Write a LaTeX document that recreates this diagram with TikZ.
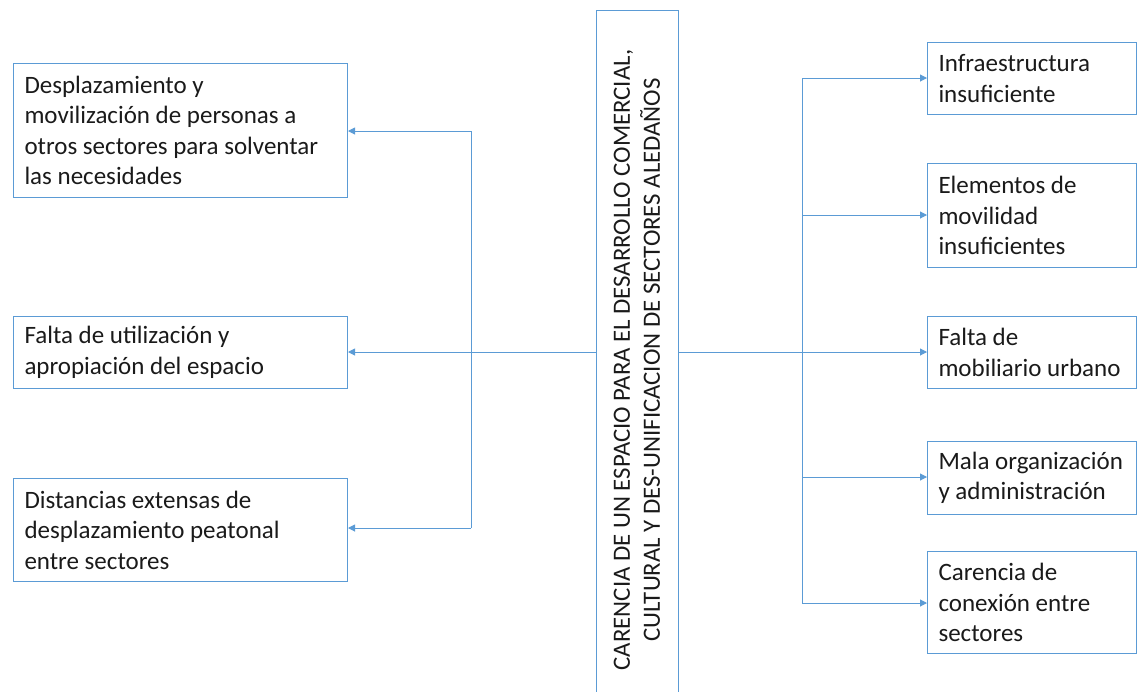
\documentclass[tikz,border=0pt]{standalone}
\usepackage{fontspec}
\setmainfont{Carlito}
\usetikzlibrary{arrows.meta}
\definecolor{lineblue}{HTML}{5B9BD5}
\definecolor{txt}{HTML}{1A1A1A}
\tikzset{
  box/.style={draw=lineblue, line width=1pt, anchor=north west, align=flush left,
    inner xsep=11pt, inner ysep=0pt, text=txt,
    font=\fontsize{25}{30.5}\selectfont},
  conn/.style={draw=lineblue, line width=1pt},
  arr/.style={conn, -{Triangle[width=7pt,length=7pt]}}
}
\begin{document}
\begin{tikzpicture}[x=1pt,y=-1pt]
\useasboundingbox (0,0) rectangle (1137,691);
% left boxes
\node[box, text width=312pt, minimum height=134pt] (l1) at (13,63)
  {Desplazamiento y\\movilización de personas a\\otros sectores para solventar\\las necesidades};
\node[box, text width=312pt, minimum height=72pt] (l2) at (13,316)
  {Falta de utilización y\\apropiación del espacio};
\node[box, text width=312pt, minimum height=103pt] (l3) at (13,478)
  {Distancias extensas de\\desplazamiento peatonal\\entre sectores};
% right boxes
\node[box, text width=187pt, minimum height=72pt] (r1) at (927,42)
  {Infraestructura\\insuficiente};
\node[box, text width=187pt, minimum height=104pt] (r2) at (927,163)
  {Elementos de\\movilidad\\insuficientes};
\node[box, text width=187pt, minimum height=72pt] (r3) at (927,316)
  {Falta de\\mobiliario urbano};
\node[box, text width=187pt, minimum height=73pt] (r4) at (927,441)
  {Mala organización\\y administración};
\node[box, text width=187pt, minimum height=102pt] (r5) at (927,551)
  {Carencia de\\conexión entre\\sectores};
% center
\node[draw=lineblue, line width=1pt, rotate=90, minimum width=700pt, minimum height=82pt,
  inner sep=0pt, align=center, text=txt, font=\fontsize{24.8}{30}\selectfont] (c) at (637,360)
  {CARENCIA DE UN ESPACIO PARA EL DESARROLLO COMERCIAL,\\CULTURAL Y DES-UNIFICACION DE SECTORES ALEDAÑOS};
% connectors
\coordinate (cl) at (596,352);
\coordinate (cr) at (678,352);
\coordinate (jl) at (471,352);
\coordinate (jr) at (802,352);
\draw[conn] (cl) -- (jl);
\draw[conn] (cr) -- (jr);
\draw[conn] (jl |- 0,131) -- (jl |- 0,528);
\draw[conn] (jr |- 0,78) -- (jr |- 0,603);
\draw[arr] (jl |- 0,131) -- (l1.east |- 0,131);
\draw[arr] (jl) -- (l2.east |- jl);
\draw[arr] (jl |- 0,528) -- (l3.east |- 0,528);
\draw[arr] (jr |- 0,78) -- (r1.west |- 0,78);
\draw[arr] (jr |- 0,215) -- (r2.west |- 0,215);
\draw[arr] (jr) -- (r3.west |- jr);
\draw[arr] (jr |- 0,477) -- (r4.west |- 0,477);
\draw[arr] (jr |- 0,603) -- (r5.west |- 0,603);
\end{tikzpicture}
\end{document}
